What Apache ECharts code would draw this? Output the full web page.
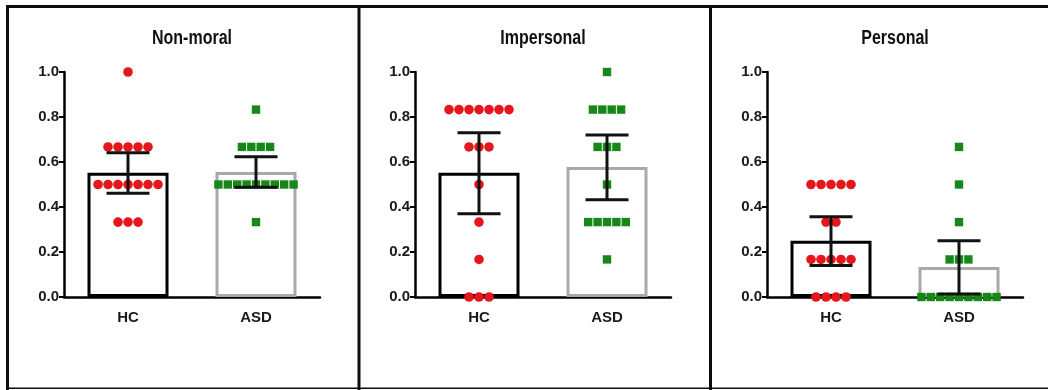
<!DOCTYPE html>
<html>
<head>
<meta charset="utf-8">
<script src="https://cdn.jsdelivr.net/npm/echarts@6/dist/echarts.min.js"></script>
<style>
  html, body { margin: 0; padding: 0; background: #fff; }
  #chart { width: 1048px; height: 390px; }
</style>
</head>
<body>
<div id="chart"></div>
<script>
// Groups, panel titles and y ticks
const groups = ['HC', 'ASD'];
const panelTitles = ['Non-moral', 'Impersonal', 'Personal'];
const yTickValues = [0, 0.2, 0.4, 0.6, 0.8, 1.0];

// Per-participant proportion scores
const nonMoralHC = [1.0, 0.667, 0.667, 0.667, 0.667, 0.667, 0.5, 0.5, 0.5, 0.5, 0.5, 0.5, 0.5, 0.333, 0.333, 0.333];
const nonMoralASD = [0.833, 0.667, 0.667, 0.667, 0.667, 0.5, 0.5, 0.5, 0.5, 0.5, 0.5, 0.5, 0.5, 0.5, 0.333];
const impersonalHC = [0.833, 0.833, 0.833, 0.833, 0.833, 0.833, 0.833, 0.667, 0.667, 0.667, 0.5, 0.333, 0.167, 0, 0, 0];
const impersonalASD = [1.0, 0.833, 0.833, 0.833, 0.833, 0.667, 0.667, 0.667, 0.5, 0.333, 0.333, 0.333, 0.333, 0.333, 0.167];
const personalHC = [0.5, 0.5, 0.5, 0.5, 0.5, 0.333, 0.333, 0.167, 0.167, 0.167, 0.167, 0.167, 0, 0, 0, 0];
const personalASD = [0.667, 0.5, 0.333, 0.167, 0.167, 0.167, 0, 0, 0, 0, 0, 0, 0, 0, 0];

// Group means
const nonMoralMean = [0.552, 0.556];
const impersonalMean = [0.552, 0.578];
const personalMean = [0.250, 0.133];

// 95% confidence interval bounds [low, high] per group
const nonMoralCI = [[0.461, 0.641], [0.488, 0.623]];
const impersonalCI = [[0.370, 0.730], [0.432, 0.720]];
const personalCI = [[0.140, 0.357], [0.013, 0.250]];

const panels = [
  { scores: [nonMoralHC, nonMoralASD], mean: nonMoralMean, ci: nonMoralCI },
  { scores: [impersonalHC, impersonalASD], mean: impersonalMean, ci: impersonalCI },
  { scores: [personalHC, personalASD], mean: personalMean, ci: personalCI }
];

const FONT = "'Liberation Sans', Arial, sans-serif";
const gridLefts = [64, 415, 767];
const GRID_W = 256;
const GRID_TOP = 72;
const GRID_H = 225;
const RED = '#e5161c';
const GREEN = '#18871a';
const barBorders = ['#000000', '#a9a9a9'];

// Spread tied scores side by side around the group centre (dot swarm)
function swarm(groupIndex, values) {
  const rows = {};
  values.forEach(v => { (rows[v] = rows[v] || []).push(v); });
  const items = [];
  Object.keys(rows).forEach(k => {
    const n = rows[k].length;
    rows[k].forEach((v, i) => items.push([groupIndex, v, i - (n - 1) / 2]));
  });
  return items;
}

const grid = [], xAxis = [], yAxis = [], series = [], titles = [];

panels.forEach((p, idx) => {
  grid.push({ left: gridLefts[idx], top: GRID_TOP, width: GRID_W, height: GRID_H });

  // Panel heading, set in a condensed bold face
  titles.push({
    type: 'text',
    x: gridLefts[idx] + GRID_W / 2,
    y: 38,
    scaleX: 0.8,
    silent: true,
    style: {
      text: panelTitles[idx],
      fontFamily: FONT, fontSize: 20, fontWeight: 'bold',
      fill: '#111', align: 'center', verticalAlign: 'middle'
    }
  });

  xAxis.push({
    gridIndex: idx,
    type: 'category',
    data: groups,
    boundaryGap: true,
    axisLine: { lineStyle: { color: '#000', width: 2.5 } },
    axisTick: { alignWithLabel: true, length: 4, lineStyle: { color: '#000', width: 2 } },
    axisLabel: { fontFamily: FONT, fontSize: 15, fontWeight: 'bold', color: '#1a1a1a', margin: 13 },
    splitLine: { show: false }
  });
  yAxis.push({
    gridIndex: idx,
    type: 'value',
    min: 0,
    max: 1,
    interval: 0.2,
    axisLine: { show: true, lineStyle: { color: '#000', width: 2.5 } },
    axisTick: { show: true, length: 5, lineStyle: { color: '#000', width: 2 } },
    axisLabel: {
      fontFamily: FONT, fontSize: 15, fontWeight: 'bold', color: '#1a1a1a', margin: 5,
      formatter: v => yTickValues.some(t => Math.abs(t - v) < 1e-9) ? v.toFixed(1) : ''
    },
    splitLine: { show: false }
  });

  // Mean bars
  series.push({
    type: 'bar',
    xAxisIndex: idx,
    yAxisIndex: idx,
    barWidth: 81,
    z: 1,
    data: p.mean.map((m, g) => ({
      value: m,
      itemStyle: { color: '#ffffff', borderColor: barBorders[g], borderWidth: 3 }
    })),
    silent: true
  });

  // Individual scores
  series.push({
    type: 'custom',
    xAxisIndex: idx,
    yAxisIndex: idx,
    z: 2,
    silent: true,
    clip: false,
    data: swarm(0, p.scores[0]).concat(swarm(1, p.scores[1])),
    renderItem: (params, api) => {
      const g = api.value(0);
      const pt = api.coord([g, api.value(1)]);
      const off = api.value(2);
      if (g === 0) {
        return { type: 'circle', shape: { cx: pt[0] + off * 10, cy: pt[1], r: 4.8 }, style: { fill: RED } };
      }
      return { type: 'rect', shape: { x: pt[0] + off * 9.4 - 4.2, y: pt[1] - 4.2, width: 8.4, height: 8.4 }, style: { fill: GREEN } };
    }
  });

  // Confidence interval whiskers
  series.push({
    type: 'custom',
    xAxisIndex: idx,
    yAxisIndex: idx,
    z: 3,
    silent: true,
    clip: false,
    data: p.ci.map((c, g) => [g, c[0], c[1]]),
    renderItem: (params, api) => {
      const lo = api.coord([api.value(0), api.value(1)]);
      const hi = api.coord([api.value(0), api.value(2)]);
      const half = 21.5;
      const st = { stroke: '#111', lineWidth: 3 };
      return {
        type: 'group',
        children: [
          { type: 'line', shape: { x1: lo[0], y1: lo[1], x2: hi[0], y2: hi[1] }, style: st },
          { type: 'line', shape: { x1: lo[0] - half, y1: lo[1], x2: lo[0] + half, y2: lo[1] }, style: st },
          { type: 'line', shape: { x1: hi[0] - half, y1: hi[1], x2: hi[0] + half, y2: hi[1] }, style: st }
        ]
      };
    }
  });
});

// Panel frame
const frame = [
  { type: 'rect', shape: { x: 6, y: 5, width: 1042, height: 3 } },
  { type: 'rect', shape: { x: 6, y: 5, width: 3, height: 385 } },
  { type: 'rect', shape: { x: 357.5, y: 5, width: 3, height: 385 } },
  { type: 'rect', shape: { x: 709, y: 5, width: 3, height: 385 } },
  { type: 'rect', shape: { x: 6, y: 387.5, width: 1042, height: 1.5 } }
].map(r => Object.assign(r, { silent: true, style: { fill: '#0d0d0d' } }));

const chart = echarts.init(document.getElementById('chart'), null, { renderer: 'canvas' });
chart.setOption({
  animation: false,
  backgroundColor: '#ffffff',
  grid,
  xAxis,
  yAxis,
  series,
  graphic: frame.concat(titles)
});
</script>
</body>
</html>
